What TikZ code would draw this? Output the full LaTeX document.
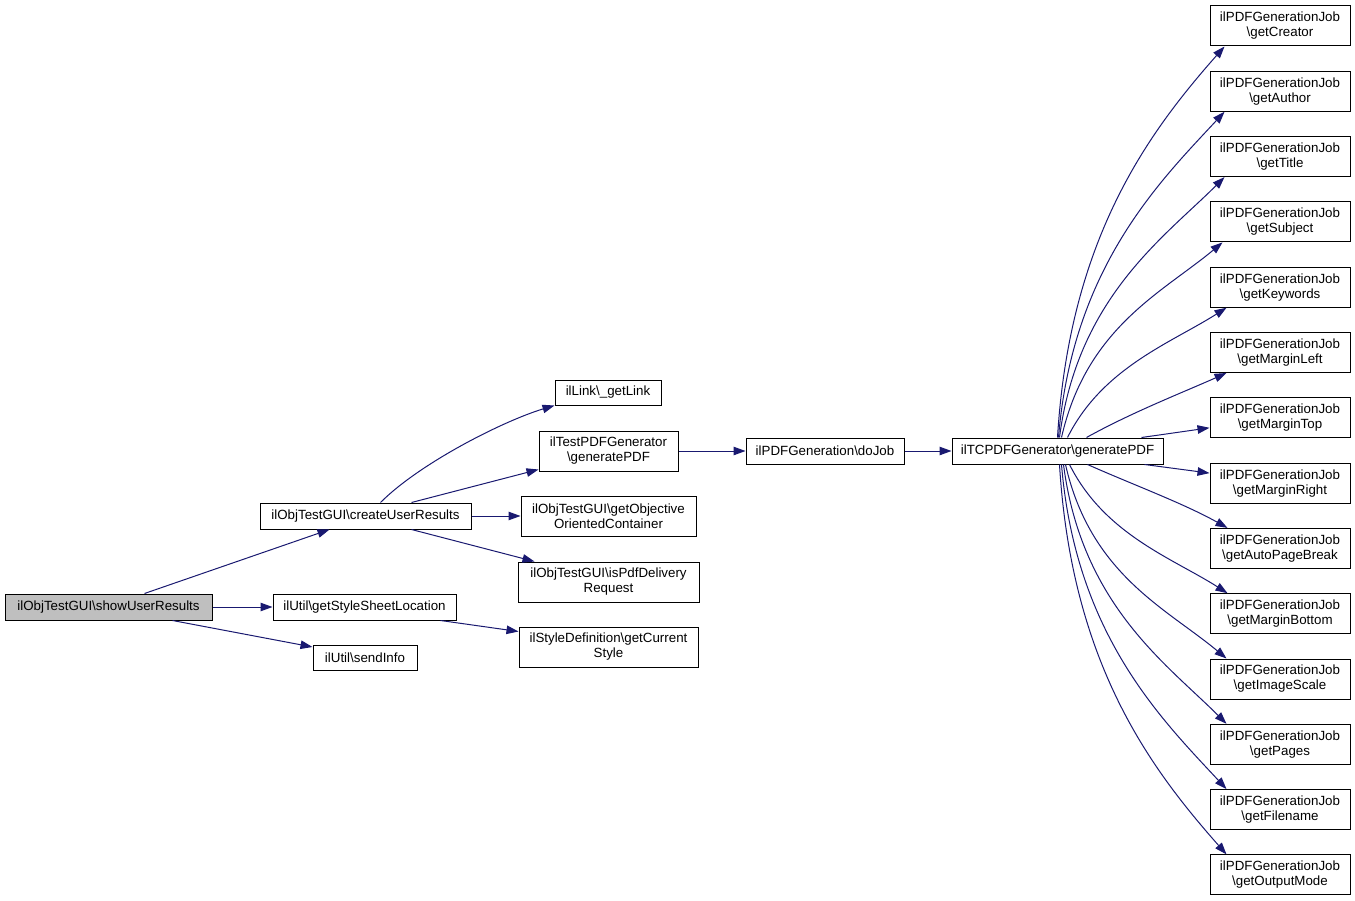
\documentclass[tikz,border=0pt]{standalone}
\usepackage{fontspec}
\setmainfont{Liberation Sans}
\usetikzlibrary{arrows.meta}
\definecolor{edgec}{HTML}{191970}
\definecolor{rootfill}{HTML}{BFBFBF}
\tikzset{
  box/.style={draw=black, line width=1pt, fill=white, inner sep=0pt, minimum height=26pt, align=center},
  boxtwo/.style={box, minimum height=40pt},
  edge/.style={draw=edgec, line width=1pt, -{Triangle[length=12pt,width=8.5pt]}}
}
\begin{document}
\begin{tikzpicture}[x=1pt,y=-1pt,font=\fontsize{13.33}{15}\selectfont]
\useasboundingbox (0,0) rectangle (1355,901);
% nodes
\node[box, fill=rootfill, minimum width=207pt] (sur) at (108.5,607) {ilObjTestGUI\textbackslash{}showUserResults};
\node[box, minimum width=211pt] (cur) at (365.5,516) {ilObjTestGUI\textbackslash{}createUserResults};
\node[box, minimum width=183pt] (gss) at (364.5,607) {ilUtil\textbackslash{}getStyleSheetLocation};
\node[box, minimum width=104pt, minimum height=25pt] (si) at (365,658) {ilUtil\textbackslash{}sendInfo};
\node[box, minimum width=106pt, minimum height=25pt] (gl) at (608,392.5) {ilLink\textbackslash{}\_getLink};
\node[boxtwo, minimum width=139pt] (tpg) at (608.5,451) {ilTestPDFGenerator\\\textbackslash{}generatePDF};
\node[boxtwo, minimum width=175pt] (goc) at (608.5,516) {ilObjTestGUI\textbackslash{}getObjective\\OrientedContainer};
\node[boxtwo, minimum width=181pt] (ipd) at (608.5,582) {ilObjTestGUI\textbackslash{}isPdfDelivery\\Request};
\node[boxtwo, minimum width=179pt] (sd) at (608.5,647) {ilStyleDefinition\textbackslash{}getCurrent\\Style};
\node[box, minimum width=158pt] (dj) at (825,451) {ilPDFGeneration\textbackslash{}doJob};
\node[box, minimum width=211pt] (tc) at (1057.5,451) {ilTCPDFGenerator\textbackslash{}generatePDF};
\foreach \i/\t in {0/getCreator,1/getAuthor,2/getTitle,3/getSubject,4/getKeywords,5/getMarginLeft,6/getMarginTop,7/getMarginRight,8/getAutoPageBreak,9/getMarginBottom,10/getImageScale,11/getPages,12/getFilename,13/getOutputMode}{
  \node[boxtwo, minimum width=140pt] (j\i) at (1280,{26+65.3*\i}) {ilPDFGenerationJob\\\textbackslash{}\t};
}
% left edges
\draw[edge] ([xshift=140pt]sur.north west) -- ([xshift=70pt]cur.south west);
\draw[edge] (sur.east) -- (gss.west);
\draw[edge] ([xshift=168pt]sur.south west) -- ([yshift=-2pt]si.north west);
\draw[edge] ([xshift=121pt]cur.north west) .. controls +(40,-40) and +(-50,15) .. (gl.south west);
\draw[edge] ([xshift=152pt]cur.north west) -- ([yshift=2pt]tpg.south west);
\draw[edge] (cur.east) -- (goc.west);
\draw[edge] ([xshift=152pt]cur.south west) -- ([xshift=17pt]ipd.north west);
\draw[edge] ([xshift=-16pt]gss.south east) -- ([yshift=-5pt]sd.north west);
\draw[edge] (tpg.east) -- (dj.west);
\draw[edge] (dj.east) -- (tc.west);
% fan upper
\draw[edge] ([xshift=106pt]tc.north west) .. controls +(12,-200) and +(-75,85) .. ([xshift=15pt]j0.south west);
\draw[edge] ([xshift=107pt]tc.north west) .. controls +(14,-170) and +(-65,70) .. ([xshift=15pt]j1.south west);
\draw[edge] ([xshift=108pt]tc.north west) .. controls +(18,-140) and +(-60,60) .. ([xshift=15pt]j2.south west);
\draw[edge] ([xshift=110pt]tc.north west) .. controls +(25,-110) and +(-60,50) .. ([xshift=13pt]j3.south west);
\draw[edge] ([xshift=116pt]tc.north west) .. controls +(35,-70) and +(-55,35) .. ([xshift=17pt]j4.south west);
\draw[edge] ([xshift=135pt]tc.north west) .. controls +(45,-25) and +(-45,20) .. ([xshift=17pt]j5.south west);
\draw[edge] ([xshift=190pt]tc.north west) -- ([yshift=-10pt]j6.west);
% fan lower
\draw[edge] ([xshift=193pt]tc.south west) -- ([yshift=10pt]j7.west);
\draw[edge] ([xshift=136pt]tc.south west) .. controls +(45,20) and +(-45,-25) .. ([xshift=18pt]j8.north west);
\draw[edge] ([xshift=118pt]tc.south west) .. controls +(35,70) and +(-55,-35) .. ([xshift=18pt]j9.north west);
\draw[edge] ([xshift=114pt]tc.south west) .. controls +(25,110) and +(-60,-50) .. ([xshift=17pt]j10.north west);
\draw[edge] ([xshift=112pt]tc.south west) .. controls +(18,140) and +(-60,-60) .. ([xshift=17pt]j11.north west);
\draw[edge] ([xshift=110pt]tc.south west) .. controls +(14,170) and +(-65,-70) .. ([xshift=17pt]j12.north west);
\draw[edge] ([xshift=108pt]tc.south west) .. controls +(12,200) and +(-75,-85) .. ([xshift=17pt]j13.north west);
\end{tikzpicture}
\end{document}
